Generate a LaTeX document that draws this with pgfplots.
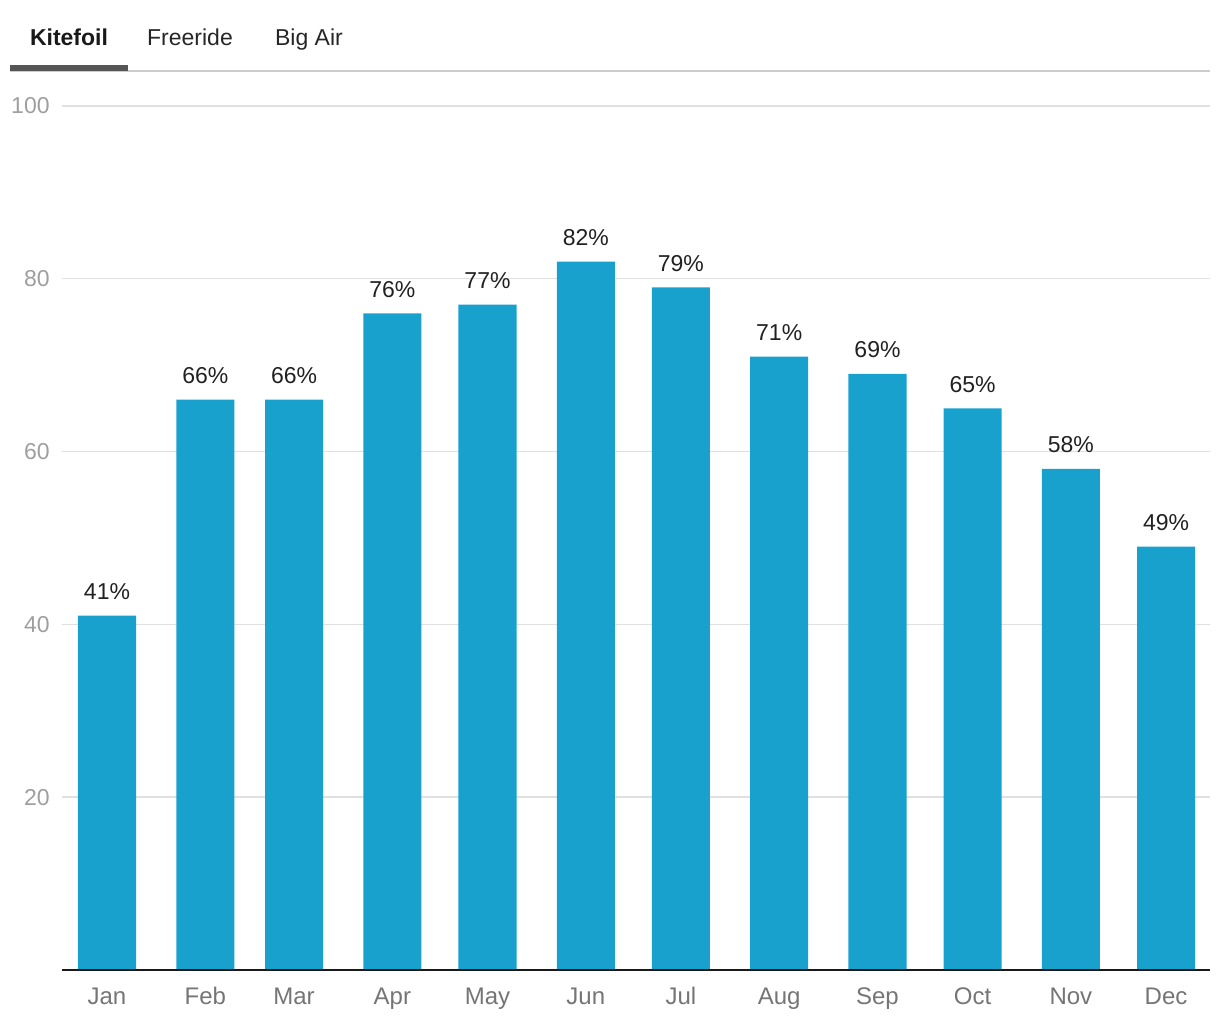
\documentclass[border=0pt]{standalone}
\usepackage{fontspec}
\setmainfont{Liberation Sans}
\usepackage{pgfplots}
\pgfplotsset{compat=1.18}
\definecolor{barblue}{HTML}{19A1CE}
\definecolor{gridgray}{HTML}{E0E0E0}
\definecolor{ylab}{HTML}{9E9E9E}
\definecolor{xlab}{HTML}{757575}
\definecolor{tabline}{HTML}{CCCCCC}
\definecolor{tabdark}{HTML}{555555}
\begin{document}
\begin{tikzpicture}
\path[use as bounding box] (-31pt,-25pt) rectangle (579pt,485pt);
\begin{axis}[
  at={(0,0)}, anchor=south west,
  scale only axis,
  width=574pt, height=432pt,
  xmin=-14.19, xmax=347.87,
  ymin=0, ymax=100,
  ybar, bar width=18.3,
  xtick={0,31,59,90,120,151,181,212,243,273,304,334},
  xticklabels={Jan,Feb,Mar,Apr,May,Jun,Jul,Aug,Sep,Oct,Nov,Dec},
  ytick={20,40,60,80,100},
  ymajorgrids,
  grid style={gridgray, line width=0.7pt},
  axis line style={draw=none},
  major tick length=0pt,
  /pgf/number format/assume math mode=true,
  xticklabel style={font=\fontsize{12}{14}\selectfont, text=xlab, anchor=base, inner sep=0pt, yshift=-17.5pt},
  yticklabel style={font=\fontsize{11.5}{14}\selectfont, text=ylab, anchor=east, inner sep=0pt, xshift=-6pt},
  nodes near coords={\pgfmathprintnumber{\pgfplotspointmeta}\%},
  every node near coord/.append style={font=\fontsize{11.5}{14}\selectfont, text=black!87, anchor=base, inner sep=0pt, yshift=8pt},
  clip=false,
]
\addplot[draw=none, fill=barblue] coordinates {
(0,41) (31,66) (59,66) (90,76) (120,77) (151,82) (181,79) (212,71) (243,69) (273,65) (304,58) (334,49)
};
\draw[line width=1pt, black!90] (axis cs:-14.19,0) -- (axis cs:347.87,0);
\end{axis}
% tabs
\draw[tabline, line width=1pt] (-26pt,449.25pt) -- (574pt,449.25pt);
\fill[tabdark] (-26pt,449.5pt) rectangle (33pt,452.5pt);
\node[anchor=base, inner sep=0pt, font=\bfseries\fontsize{11.5}{14}\selectfont, text=black!90] at (3.5pt,462pt) {Kitefoil};
\node[anchor=base, inner sep=0pt, font=\fontsize{11.5}{14}\selectfont, text=black!85] at (64pt,462pt) {Freeride};
\node[anchor=base, inner sep=0pt, font=\fontsize{11.5}{14}\selectfont, text=black!85] at (123.5pt,462pt) {Big Air};
\end{tikzpicture}
\end{document}
